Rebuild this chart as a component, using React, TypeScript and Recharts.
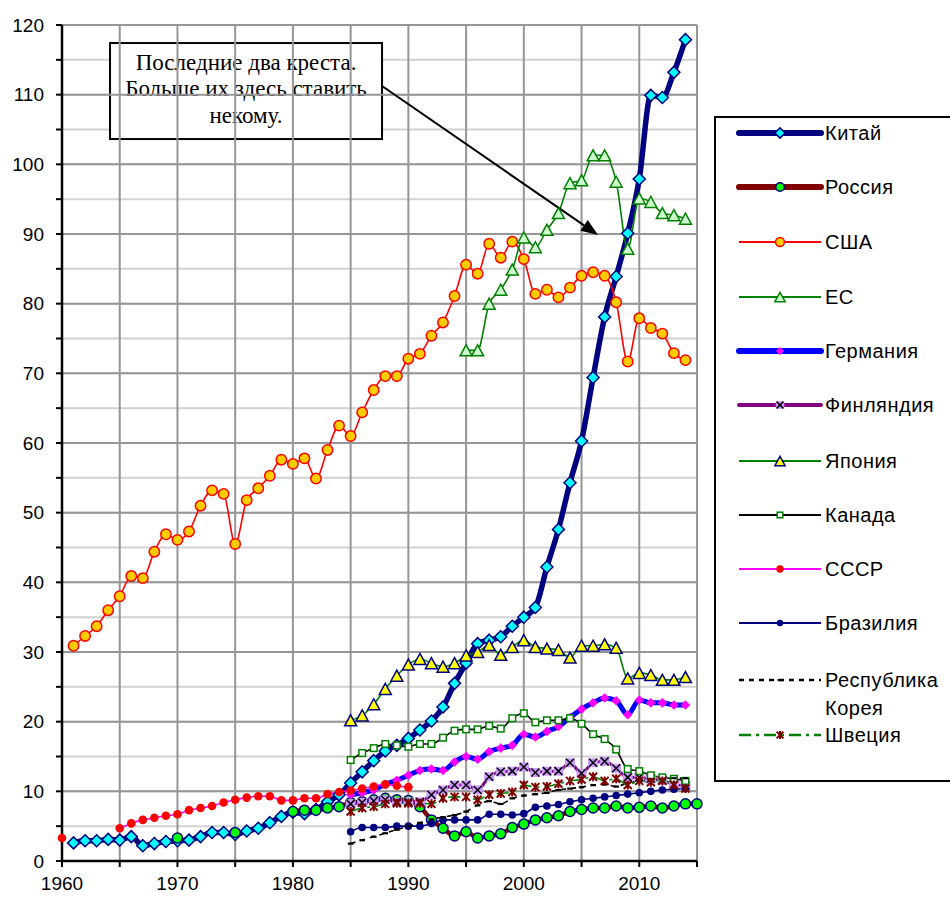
import React from 'react'
import { LineChart, Line, XAxis, YAxis, CartesianGrid, ReferenceLine, ReferenceArea, Legend } from 'recharts'

// years on the axis
const firstYear = 1960
const lastYear = 2015
const yearTicks = [1960, 1965, 1970, 1975, 1980, 1985, 1990, 1995, 2000, 2005, 2010, 2015]
const valueTicks = [0, 5, 10, 15, 20, 25, 30, 35, 40, 45, 50, 55, 60, 65, 70, 75, 80, 85, 90, 95, 100, 105, 110, 115, 120]
const majorValues = [10, 20, 30, 40, 50, 60, 70, 80, 90, 100, 110, 120]

// series values (first year noted for each)
const chinaFrom = 1961
const china = [
  2.6, 2.9, 2.9, 3.1, 3.0, 3.5, 2.2, 2.5, 2.8, 2.9,
  3.0, 3.5, 4.1, 4.1, 3.8, 4.3, 4.7, 5.5, 6.4, 7.0,
  6.8, 7.4, 8.5, 9.5, 11.2, 12.8, 14.4, 15.8, 16.6, 17.6,
  18.8, 20.1, 22.1, 25.5, 28.4, 31.2, 31.7, 32.2, 33.7, 35.0,
  36.4, 42.2, 47.6, 54.3, 60.3, 69.4, 78.1, 83.9, 90.1, 97.9,
  109.9, 109.6, 113.2, 117.9,
]

const russiaFrom = 1970
const russia = [
  3.3, null, null, null, null, 4.1, null, null, null, null,
  7.1, 7.3, 7.3, 7.6, 7.8, 8.4, 8.5, 8.8, 9.0, 8.8,
  8.7, 7.8, 5.9, 4.7, 3.6, 4.2, 3.3, 3.6, 3.9, 4.8,
  5.3, 5.9, 6.2, 6.5, 7.1, 7.4, 7.6, 7.6, 7.9, 7.6,
  7.7, 7.9, 7.6, 7.9, 8.2, 8.2,
]

const usaFrom = 1961
const usa = [
  30.9, 32.3, 33.7, 36.0, 38.0, 40.9, 40.6, 44.4, 46.9, 46.1,
  47.3, 51.0, 53.2, 52.7, 45.5, 51.8, 53.5, 55.3, 57.6, 57.0,
  57.8, 54.9, 59.0, 62.5, 61.0, 64.4, 67.6, 69.6, 69.6, 72.1,
  72.8, 75.4, 77.3, 81.1, 85.6, 84.3, 88.6, 86.6, 88.9, 86.4,
  81.4, 82.0, 80.9, 82.3, 84.0, 84.5, 84.0, 80.2, 71.7, 77.9,
  76.5, 75.7, 72.9, 71.9,
]

const euFrom = 1995
const eu = [
  73.3, 73.3, 80.0, 82.0, 84.9, 89.5, 88.1, 90.6, 93.0, 97.3,
  97.7, 101.3, 101.3, 97.5, 87.9, 95.1, 94.6, 93.0, 92.7, 92.2,
]

const germanyFrom = 1985
const germany = [
  9.5, 9.8, 10.2, 11.0, 11.6, 12.3, 13.0, 13.2, 13.0, 14.2,
  15.0, 14.6, 15.7, 16.2, 16.6, 18.2, 17.8, 18.6, 19.3, 20.6,
  21.8, 22.7, 23.4, 23.0, 21.0, 23.1, 22.7, 22.7, 22.4, 22.4,
]

const finlandFrom = 1985
const finland = [
  8.2, 8.4, 8.6, 8.8, 8.5, 8.5, 8.5, 9.5, 10.2, 10.9,
  10.9, 10.2, 12.1, 12.8, 12.9, 13.5, 12.7, 12.9, 12.9, 14.1,
  12.6, 14.1, 14.3, 13.3, 12.0, 12.0, 11.8, 11.6, 11.0, 10.8,
]

const japanFrom = 1985
const japan = [
  20.2, 20.9, 22.5, 24.7, 26.6, 28.2, 29.0, 28.4, 27.9, 28.4,
  29.5, 30.0, 31.0, 29.6, 30.7, 31.7, 30.7, 30.5, 30.3, 29.2,
  30.9, 30.9, 31.1, 30.6, 26.2, 27.0, 26.7, 26.0, 26.0, 26.4,
]

const canadaFrom = 1985
const canada = [
  14.5, 15.5, 16.2, 16.8, 16.6, 16.4, 16.8, 16.8, 17.7, 18.7,
  18.9, 18.9, 19.4, 19.0, 20.5, 21.2, 19.9, 20.2, 20.2, 20.5,
  19.7, 18.2, 17.5, 16.0, 13.2, 12.9, 12.3, 12.0, 11.8, 11.5,
]

const ussrFrom = 1960
const ussr = [
  3.3, null, null, null, null, 4.7, 5.4, 5.9, 6.2, 6.5,
  6.7, 7.3, 7.6, 7.9, 8.4, 8.8, 9.1, 9.3, 9.3, 8.7,
  8.7, 9.0, 9.0, 9.6, 9.9, 10.1, 10.4, 10.7, 11.0, 10.8,
  10.6,
]

const brazilFrom = 1985
const brazil = [
  4.2, 4.8, 4.8, 4.8, 5.0, 5.0, 5.0, 5.4, 5.9, 5.9,
  5.9, 5.9, 6.7, 6.7, 6.6, 6.8, 7.7, 7.9, 8.1, 8.5,
  8.8, 9.0, 9.2, 9.4, 9.6, 9.8, 10.0, 10.2, 10.3, 10.4,
]

const koreaFrom = 1985
const korea = [
  2.5, 3.0, 3.5, 4.0, 4.5, 5.0, 5.5, 6.0, 6.3, 6.6,
  7.1, 8.0, 8.6, 8.2, 9.0, 9.4, 9.6, 9.8, 10.2, 10.4,
  10.6, 10.9, 11.0, 10.7, 11.2, 11.5, 11.7, 11.8, 11.9, 11.9,
]

const swedenFrom = 1985
const sweden = [
  7.1, 7.6, 7.8, 8.2, 8.3, 8.3, 8.3, 8.2, 9.0, 9.2,
  9.2, 8.8, 9.5, 9.7, 9.9, 10.9, 10.6, 10.7, 11.1, 11.5,
  11.7, 12.1, 11.5, 11.8, 10.9, 11.5, 11.3, 11.5, 10.9, 10.4,
]

const noteLines = ['Последние два креста.', 'Больше их здесь ставить', 'некому.']

type Kind = 'china' | 'russia' | 'usa' | 'eu' | 'germany' | 'finland' | 'japan' | 'canada' | 'ussr' | 'brazil' | 'korea' | 'sweden'

interface Series {
  key: Kind
  name: string
  from: number
  values: (number | null)[]
  stroke: string
  width: number
  legendWidth: number
  dash?: string
}

const series: Series[] = [
  { key: 'china', name: 'Китай', from: chinaFrom, values: china, stroke: '#000080', width: 5.5, legendWidth: 6 },
  { key: 'russia', name: 'Россия', from: russiaFrom, values: russia, stroke: '#800000', width: 4.5, legendWidth: 6 },
  { key: 'usa', name: 'США', from: usaFrom, values: usa, stroke: '#ff0000', width: 1.6, legendWidth: 2 },
  { key: 'eu', name: 'ЕС', from: euFrom, values: eu, stroke: '#008000', width: 1.6, legendWidth: 2 },
  { key: 'germany', name: 'Германия', from: germanyFrom, values: germany, stroke: '#0000ff', width: 5, legendWidth: 6 },
  { key: 'finland', name: 'Финляндия', from: finlandFrom, values: finland, stroke: '#800080', width: 3, legendWidth: 4 },
  { key: 'japan', name: 'Япония', from: japanFrom, values: japan, stroke: '#008000', width: 1.6, legendWidth: 2 },
  { key: 'canada', name: 'Канада', from: canadaFrom, values: canada, stroke: '#000000', width: 1.6, legendWidth: 2 },
  { key: 'ussr', name: 'СССР', from: ussrFrom, values: ussr, stroke: '#ff00ff', width: 1.6, legendWidth: 2 },
  { key: 'brazil', name: 'Бразилия', from: brazilFrom, values: brazil, stroke: '#000080', width: 1.6, legendWidth: 2 },
  { key: 'korea', name: 'Республика Корея', from: koreaFrom, values: korea, stroke: '#000000', width: 1.6, legendWidth: 2.5, dash: '5 5' },
  { key: 'sweden', name: 'Швеция', from: swedenFrom, values: sweden, stroke: '#008000', width: 1.6, legendWidth: 2.5, dash: '12 5 3 5' },
]

// one row per year, blanks where a series has no value
const chartData = Array.from({ length: lastYear - firstYear + 1 }, (_, i) => {
  const year = firstYear + i
  const row: any = { year }
  series.forEach((s) => {
    const v = s.values[year - s.from]
    if (v !== undefined && v !== null) row[s.key] = v
  })
  return row
})

function Marker({ kind, cx, cy, s = 1 }: { kind: Kind; cx: number; cy: number; s?: number }) {
  switch (kind) {
    case 'china': {
      const r = 6 * s
      return <path d={`M${cx},${cy - r}L${cx + r},${cy}L${cx},${cy + r}L${cx - r},${cy}Z`} fill="#00ffff" stroke="#000080" strokeWidth={1.5} />
    }
    case 'russia':
      return <circle cx={cx} cy={cy} r={5 * s} fill="#00ff00" stroke="#000080" strokeWidth={1.5} />
    case 'usa':
      return <circle cx={cx} cy={cy} r={5.2 * s} fill="#ffcc00" stroke="#ff0000" strokeWidth={1.5} />
    case 'eu':
    case 'japan': {
      const w = 6 * s
      const h = 5.5 * s
      return (
        <path
          d={`M${cx},${cy - h}L${cx + w},${cy + h}L${cx - w},${cy + h}Z`}
          fill={kind === 'eu' ? '#ccffcc' : '#ffff00'}
          stroke={kind === 'eu' ? '#008000' : '#000080'}
          strokeWidth={1.5}
        />
      )
    }
    case 'germany': {
      const r = 4.8 * s
      return <path d={`M${cx},${cy - r}L${cx + r},${cy}L${cx},${cy + r}L${cx - r},${cy}Z`} fill="#ff00ff" />
    }
    case 'finland': {
      const r = 4 * s
      return (
        <g>
          <rect x={cx - 5 * s} y={cy - 4.5 * s} width={10 * s} height={9 * s} fill="#cc99ff" />
          <path d={`M${cx - r},${cy - r}L${cx + r},${cy + r}M${cx - r},${cy + r}L${cx + r},${cy - r}`} stroke="#000" strokeWidth={1.5} />
        </g>
      )
    }
    case 'canada':
      return <rect x={cx - 3.3 * s} y={cy - 3.3 * s} width={6.6 * s} height={6.6 * s} fill="#fff" stroke="#008000" strokeWidth={1.5} />
    case 'ussr':
      return <circle cx={cx} cy={cy} r={4.3 * s} fill="#ff0000" />
    case 'brazil':
      return <circle cx={cx} cy={cy} r={3.8 * s} fill="#000080" />
    case 'korea':
      return <rect x={cx - 2.8 * s} y={cy - 1} width={5.6 * s} height={2.2} fill="#000" />
    case 'sweden': {
      const r = 4 * s
      return (
        <path
          d={`M${cx - r},${cy - r}L${cx + r},${cy + r}M${cx - r},${cy + r}L${cx + r},${cy - r}M${cx},${cy - r - 0.5}L${cx},${cy + r + 0.5}`}
          stroke="#800000"
          strokeWidth={2}
        />
      )
    }
  }
  return null
}

const renderDot = (kind: Kind) => (p: any) => {
  const key = `${kind}-${p.index}`
  if (p.value === null || p.value === undefined || !Number.isFinite(p.cy) || !Number.isFinite(p.cx)) return <g key={key} />
  return (
    <g key={key}>
      <Marker kind={kind} cx={p.cx} cy={p.cy} />
    </g>
  )
}

const NoteBox = (p: any) => (
  <g>
    <rect x={p.x} y={p.y} width={p.width} height={p.height} fill="#fff" stroke="#000" strokeWidth={2} />
    {noteLines.map((t, i) => (
      <text
        key={t}
        x={p.x + p.width / 2}
        y={p.y + 19 + i * 26.5}
        textAnchor="middle"
        dominantBaseline="central"
        fontFamily="'Liberation Serif', 'Times New Roman', serif"
        fontSize={23}
        fill="#000"
      >
        {t}
      </text>
    ))}
  </g>
)

const Arrow = (p: any) => {
  const { x1, y1, x2, y2 } = p
  const a = Math.atan2(y2 - y1, x2 - x1)
  const len = 17
  const half = 6.5
  const bx = x2 - len * Math.cos(a)
  const by = y2 - len * Math.sin(a)
  const px = -Math.sin(a) * half
  const py = Math.cos(a) * half
  return (
    <g>
      <line x1={x1} y1={y1} x2={bx} y2={by} stroke="#000" strokeWidth={2} />
      <path d={`M${x2},${y2}L${bx + px},${by + py}L${bx - px},${by - py}Z`} fill="#000" />
    </g>
  )
}

// row centres in the legend box (box top is at 116)
const legendRows = [133, 187, 242, 297, 351, 405, 461, 515, 569, 623, 680, 735]

function LegendBox() {
  return (
    <div
      style={{
        position: 'relative',
        width: 250,
        height: 666,
        border: '2px solid #000',
        boxSizing: 'border-box',
        background: '#fff',
        fontFamily: "'Liberation Sans', Arial, sans-serif",
        fontSize: 20,
        letterSpacing: 0.5,
        color: '#000',
      }}
    >
      {series.map((s, i) => {
        const top = legendRows[i] - 118
        return (
          <div key={s.key}>
            <svg width={90} height={20} style={{ position: 'absolute', left: 19, top: top - 10 }}>
              <line
                x1={4}
                y1={10}
                x2={86}
                y2={10}
                stroke={s.stroke}
                strokeWidth={s.legendWidth}
                strokeLinecap={s.legendWidth > 3 ? 'round' : 'butt'}
                strokeDasharray={s.dash}
              />
              <Marker kind={s.key} cx={45} cy={10} s={0.85} />
            </svg>
            <div style={{ position: 'absolute', left: 109, top: top - 14, lineHeight: '28px', whiteSpace: 'pre' }}>
              {s.key === 'korea' ? 'Республика\nКорея' : s.name}
            </div>
          </div>
        )
      })}
    </div>
  )
}

const tickStyle = { fill: '#000', fontSize: 19, fontFamily: "'Liberation Sans', Arial, sans-serif" }

export default function App() {
  return (
    <div style={{ position: 'absolute', left: 0, top: 0, width: 950, height: 898, overflow: 'hidden', background: '#fff' }}>
      <LineChart width={950} height={898} data={chartData} margin={{ top: 25, right: 253, bottom: 0, left: 0 }}>
        <CartesianGrid vertical={false} stroke="#d2d2d2" strokeWidth={2} />
        {majorValues.map((v) => (
          <ReferenceLine key={`h${v}`} y={v} stroke="#969696" strokeWidth={2} />
        ))}
        {yearTicks.map((y) => (
          <ReferenceLine key={`v${y}`} x={y} stroke="#969696" strokeWidth={2} />
        ))}
        <XAxis
          dataKey="year"
          type="number"
          domain={[firstYear, lastYear]}
          ticks={yearTicks}
          tickFormatter={(v: number) => (v % 10 === 0 ? String(v) : '')}
          height={37}
          tickSize={6}
          tickMargin={10}
          tick={tickStyle}
          axisLine={{ stroke: '#000', strokeWidth: 2.5 }}
          tickLine={{ stroke: '#000', strokeWidth: 2 }}
          interval={0}
        />
        <YAxis
          type="number"
          domain={[0, 120]}
          ticks={valueTicks}
          tickFormatter={(v: number) => (v % 10 === 0 ? String(v) : '')}
          width={62}
          tickSize={6}
          tickMargin={12}
          tick={tickStyle}
          axisLine={{ stroke: '#000', strokeWidth: 2.5 }}
          tickLine={{ stroke: '#000', strokeWidth: 2 }}
          interval={0}
          allowDataOverflow
        />
        {series.map((s) => (
          <Line
            key={s.key}
            dataKey={s.key}
            name={s.name}
            type="monotone"
            stroke={s.stroke}
            strokeWidth={s.width}
            strokeDasharray={s.dash}
            dot={renderDot(s.key)}
            activeDot={false}
            isAnimationActive={false}
            connectNulls={false}
          />
        ))}
        <ReferenceArea x1={1964.16} x2={1987.72} y1={103.63} y2={117.41} shape={NoteBox} />
        <ReferenceLine
          segment={[
            { x: 1987.72, y: 111.24 },
            { x: 2006.43, y: 89.85 },
          ]}
          shape={Arrow}
        />
        <Legend
          layout="vertical"
          align="center"
          verticalAlign="middle"
          content={() => <LegendBox />}
          wrapperStyle={{ position: 'absolute', left: 714, top: 116, width: 250, height: 666 }}
        />
      </LineChart>
    </div>
  )
}
